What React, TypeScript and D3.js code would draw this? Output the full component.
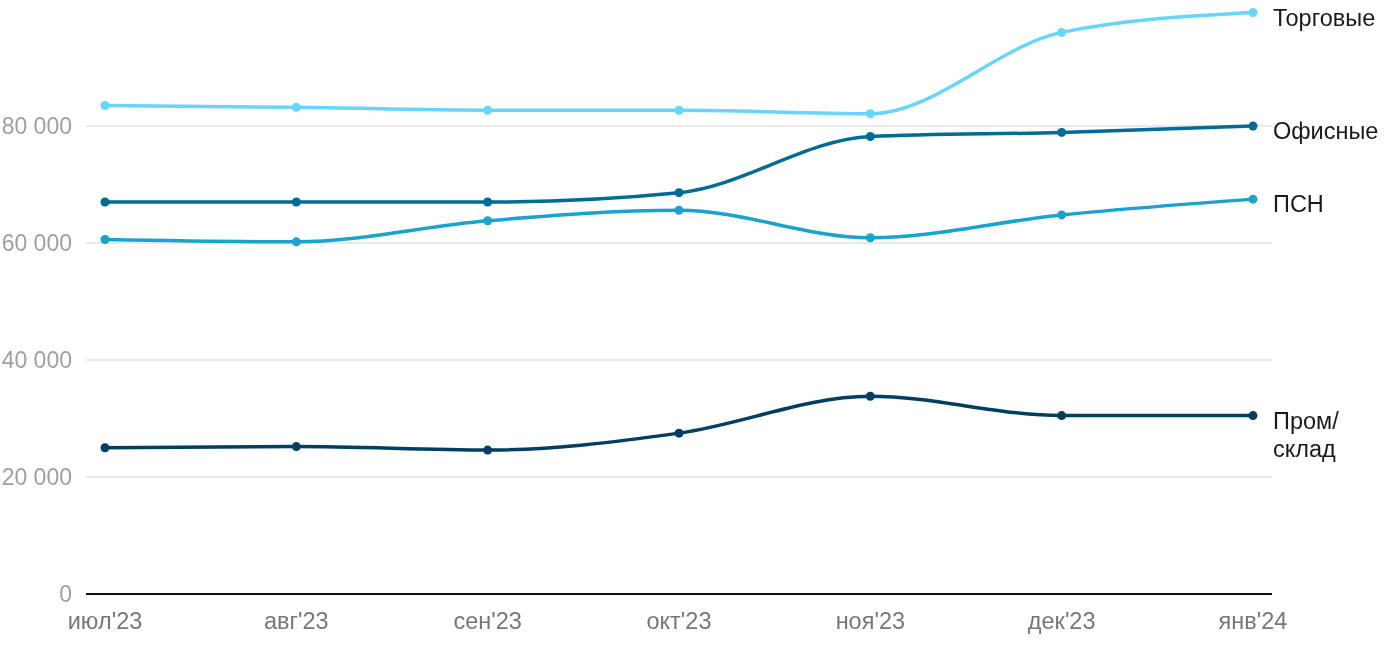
import React from "react";
import * as d3 from "d3";

const months = ["июл'23", "авг'23", "сен'23", "окт'23", "ноя'23", "дек'23", "янв'24"];
const trade = [83500, 83200, 82700, 82700, 82100, 96000, 99400];
const office = [67000, 67000, 67000, 68600, 78200, 78900, 80000];
const psn = [60600, 60200, 63800, 65600, 60900, 64800, 67500];
const industrial = [25000, 25200, 24600, 27500, 33800, 30500, 30500];
const yTicks = [0, 20000, 40000, 60000, 80000];

const series = [
  { name: ["Торговые"], values: trade, color: "#66d6ff" },
  { name: ["Офисные"], values: office, color: "#006b96" },
  { name: ["ПСН"], values: psn, color: "#1aa3cf" },
  { name: ["Пром/", "склад"], values: industrial, color: "#003f62" },
];

export default function App() {
  const W = 1400, H = 650;
  const left = 86, right = 1272;
  const x = d3.scalePoint<string>().domain(months).range([105, 1253]);
  const y = d3.scaleLinear().domain([0, 100000]).range([594, 9]);
  const line = d3
    .line<number>()
    .x((_, i) => x(months[i]) as number)
    .y((d) => y(d))
    .curve(d3.curveMonotoneX);
  const fmt = (v: number) => d3.format(",")(v).replace(/,/g, " ");
  const font = "'Liberation Sans', Arial, Helvetica, sans-serif";
  return (
    <svg width={W} height={H} style={{ position: "fixed", left: 0, top: 0 }} fontFamily={font}>
      {yTicks.map((t) => (
        <g key={t}>
          {t !== 0 && <line x1={left} x2={right} y1={y(t)} y2={y(t)} stroke="#e2e2e2" strokeWidth={1.5} />}
          <text x={72} y={y(t)} dy="0.35em" textAnchor="end" fontSize={23} fill="#a0a0a0">
            {fmt(t)}
          </text>
        </g>
      ))}
      <line x1={left} x2={right} y1={y(0)} y2={y(0)} stroke="#111" strokeWidth={2} />
      {months.map((m) => (
        <text key={m} x={x(m)} y={629} textAnchor="middle" fontSize={23.5} fill="#777">
          {m}
        </text>
      ))}
      {series.map((s) => (
        <g key={s.name.join("")}>
          <path d={line(s.values) || ""} fill="none" stroke={s.color} strokeWidth={3.5} />
          {s.values.map((v, i) => (
            <circle key={i} cx={x(months[i])} cy={y(v)} r={4.5} fill={s.color} />
          ))}
          <text x={1273} y={y(s.values[s.values.length - 1])} fontSize={23.5} fill="#1a1a1a">
            {s.name.map((n, k) => (
              <tspan key={k} x={1273} dy={k === 0 ? 13 : 28}>
                {n}
              </tspan>
            ))}
          </text>
        </g>
      ))}
    </svg>
  );
}
